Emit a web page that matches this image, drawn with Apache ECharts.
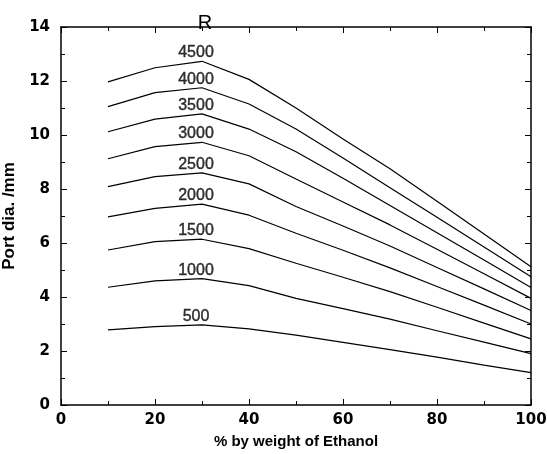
<!DOCTYPE html>
<html>
<head>
<meta charset="utf-8">
<script src="https://cdn.jsdelivr.net/npm/echarts@6/dist/echarts.min.js"></script>
<style>
  html, body { margin: 0; padding: 0; background: #fff; }
  #chart { width: 547px; height: 454px; }
</style>
</head>
<body>
<div id="chart"></div>
<script>
// Ethanol content (% by weight) at which each curve is sampled
const ethanol = [10, 20, 30, 40, 50, 60, 70, 80, 90, 100];

// Curve names (shown as labels above each curve's peak)
const curveNames = ['500', '1000', '1500', '2000', '2500', '3000', '3500', '4000', '4500'];

// Port diameter (mm) for each curve
const d500  = [2.78, 2.90, 2.97, 2.82, 2.59, 2.32, 2.05, 1.77, 1.48, 1.20];
const d1000 = [4.36, 4.60, 4.68, 4.42, 3.95, 3.57, 3.18, 2.75, 2.33, 1.90];
const d1500 = [5.74, 6.05, 6.14, 5.79, 5.25, 4.73, 4.20, 3.62, 3.03, 2.45];
const d2000 = [6.97, 7.28, 7.44, 7.03, 6.36, 5.73, 5.08, 4.39, 3.70, 3.00];
const d2500 = [8.09, 8.46, 8.60, 8.19, 7.35, 6.63, 5.89, 5.09, 4.30, 3.50];
const d3000 = [9.12, 9.57, 9.73, 9.23, 8.37, 7.52, 6.67, 5.77, 4.86, 3.95];
const d3500 = [10.12, 10.59, 10.78, 10.22, 9.38, 8.40, 7.39, 6.38, 5.37, 4.35];
const d4000 = [11.05, 11.57, 11.75, 11.15, 10.22, 9.15, 8.05, 6.95, 5.85, 4.75];
const d4500 = [11.97, 12.49, 12.73, 12.06, 11.00, 9.85, 8.75, 7.55, 6.33, 5.12];

// Axis ticks
const xTicks = { min: 0, max: 100, step: 20 };
const yTicks = { min: 0, max: 14, step: 2 };

const curves = [d500, d1000, d1500, d2000, d2500, d3000, d3500, d4000, d4500];

const tickFont = { fontFamily: 'DejaVu Sans', fontWeight: 'bold', fontSize: 15, color: '#000' };

function lineSeries(values, name) {
  return {
    type: 'line',
    name: name,
    symbol: 'none',
    silent: true,
    lineStyle: { color: '#000', width: 1.2 },
    data: values.map((v, i) => [ethanol[i], v])
  };
}

// Each curve's name sits just above its peak point
const peakLabels = {
  type: 'scatter',
  silent: true,
  symbolSize: 1,
  itemStyle: { color: 'rgba(0,0,0,0)' },
  label: {
    show: true,
    position: 'top',
    distance: 0,
    offset: [-6, 0],
    formatter: p => p.data.name,
    fontFamily: 'Liberation Sans',
    fontSize: 16,
    color: '#000',
    textBorderColor: '#000',
    textBorderWidth: 0.4
  },
  data: curves.map((values, k) => {
    let peak = 0;
    values.forEach((v, i) => { if (v > values[peak]) peak = i; });
    return { name: curveNames[k], value: [ethanol[peak], values[peak]] };
  })
};

function xAxisDef(pos, showLabels) {
  return {
    type: 'value',
    position: pos,
    min: xTicks.min, max: xTicks.max, interval: xTicks.step,
    axisLine: { show: true, onZero: false, lineStyle: { color: '#000', width: 1.5 } },
    axisTick: { show: true, inside: true, length: 6, lineStyle: { color: '#000', width: 1 } },
    minorTick: { show: true, splitNumber: 2, length: 4, lineStyle: { color: '#000', width: 1 } },
    splitLine: { show: false },
    axisLabel: Object.assign({ show: showLabels, margin: 8 }, tickFont),
    name: showLabels ? '% by weight of Ethanol' : '',
    nameLocation: 'middle',
    nameGap: 29,
    nameTextStyle: { fontFamily: 'Liberation Sans', fontWeight: 'bold', fontSize: 15, color: '#000' }
  };
}

function yAxisDef(pos, showLabels) {
  return {
    type: 'value',
    position: pos,
    min: yTicks.min, max: yTicks.max, interval: yTicks.step,
    axisLine: { show: true, onZero: false, lineStyle: { color: '#000', width: 1.5 } },
    axisTick: { show: true, inside: true, length: 6, lineStyle: { color: '#000', width: 1 } },
    minorTick: { show: true, splitNumber: 2, length: 4, lineStyle: { color: '#000', width: 1 } },
    splitLine: { show: false },
    axisLabel: Object.assign({ show: showLabels, margin: 11 }, tickFont),
    name: showLabels ? 'Port dia. /mm' : '',
    nameLocation: 'middle',
    nameGap: 36,
    nameTextStyle: { fontFamily: 'Liberation Sans', fontWeight: 'bold', fontSize: 17, color: '#000' }
  };
}

const chart = echarts.init(document.getElementById('chart'), null, { renderer: 'canvas' });
chart.setOption({
  backgroundColor: '#fff',
  animation: false,
  title: {
    text: 'R',
    left: 200,
    top: 8,
    textAlign: 'center',
    textStyle: { fontFamily: 'Liberation Sans', fontWeight: 'normal', fontSize: 20, color: '#000' }
  },
  grid: { left: 61, right: 16, top: 27, bottom: 49, containLabel: false, outerBoundsMode: 'none' },
  xAxis: [xAxisDef('bottom', true), xAxisDef('top', false)],
  yAxis: [yAxisDef('left', true), yAxisDef('right', false)],
  series: curves.map((c, i) => lineSeries(c, curveNames[i])).concat([peakLabels])
});
</script>
</body>
</html>
